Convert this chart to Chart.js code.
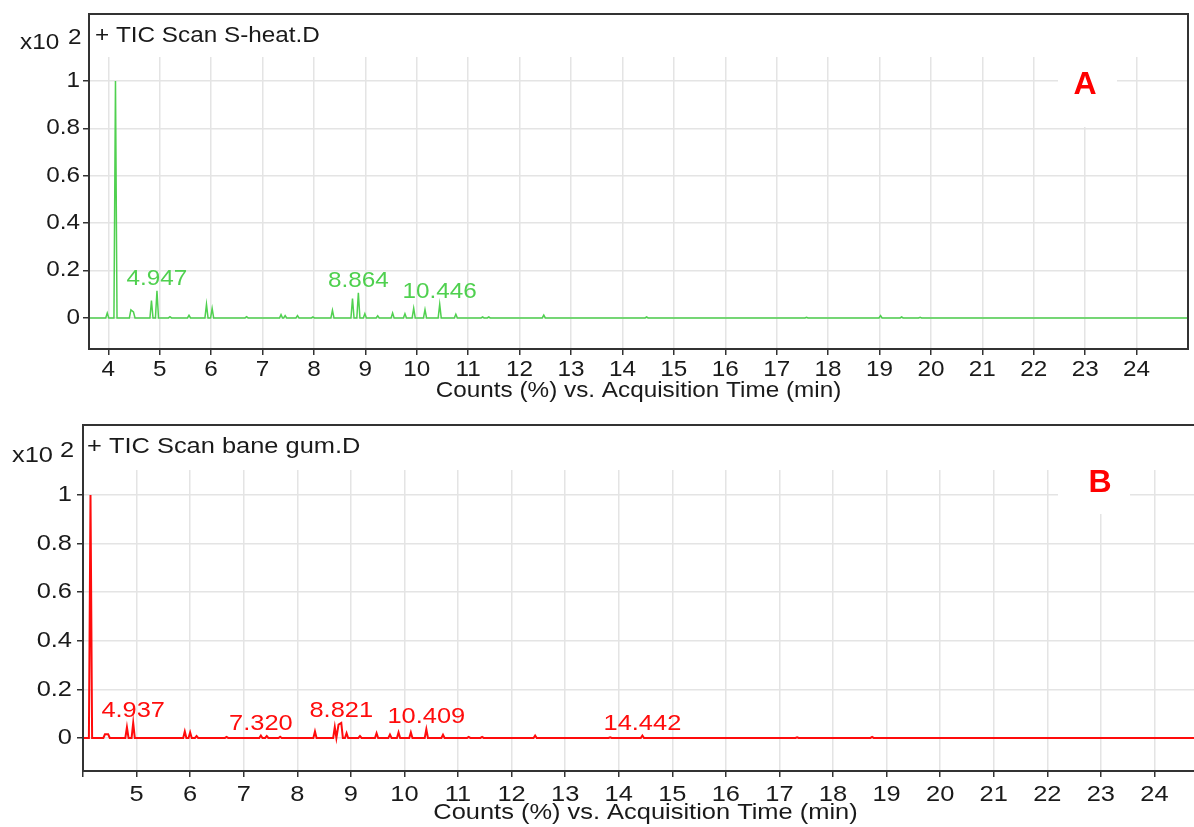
<!DOCTYPE html>
<html>
<head>
<meta charset="utf-8">
<script src="https://cdn.jsdelivr.net/npm/chart.js@4.4.1/dist/chart.umd.min.js"></script>
<style>
  html, body { margin: 0; padding: 0; background: #fff; overflow: hidden; }
  #wrap { position: relative; width: 1194px; height: 827px; overflow: hidden; }
  canvas { position: absolute; left: 0; }
  #chartA { top: 0; }
  #chartB { top: 410px; }
</style>
</head>
<body>
<div id="wrap">
  <canvas id="chartA" width="1194" height="410"></canvas>
  <canvas id="chartB" width="1214" height="417"></canvas>
</div>
<script>
// tick values / labels
const yTicks = [0, 0.2, 0.4, 0.6, 0.8, 1];
const yTickLabels = ['0', '0.2', '0.4', '0.6', '0.8', '1'];
const xTicksA = [4, 5, 6, 7, 8, 9, 10, 11, 12, 13, 14, 15, 16, 17, 18, 19, 20, 21, 22, 23, 24];
const xTickLabelsA = ['4', '5', '6', '7', '8', '9', '10', '11', '12', '13', '14', '15', '16', '17', '18', '19', '20', '21', '22', '23', '24'];
const xTicksB = [4, 5, 6, 7, 8, 9, 10, 11, 12, 13, 14, 15, 16, 17, 18, 19, 20, 21, 22, 23, 24];
const xTickLabelsB = ['', '5', '6', '7', '8', '9', '10', '11', '12', '13', '14', '15', '16', '17', '18', '19', '20', '21', '22', '23', '24'];

// A: TIC Scan S-heat.D  (retention time min, counts x10^2)
const sHeatTimes = [3.98, 4.14, 4.44, 4.49, 4.84, 4.947, 5.20, 5.57, 5.91, 6.02, 6.69, 7.36, 7.44, 7.68, 7.98, 8.36, 8.75, 8.864, 8.99, 9.24, 9.53, 9.77, 9.94, 10.16, 10.446, 10.76, 11.28, 11.40, 12.47, 14.47, 17.58, 19.02, 19.43, 19.79];
const sHeatCounts = [0.021, 1.0, 0.034, 0.025, 0.073, 0.115, 0.005, 0.011, 0.057, 0.040, 0.005, 0.014, 0.010, 0.010, 0.004, 0.032, 0.082, 0.106, 0.018, 0.009, 0.021, 0.018, 0.041, 0.035, 0.057, 0.016, 0.004, 0.004, 0.012, 0.004, 0.003, 0.010, 0.004, 0.003];
const sHeatLabels = ['4.947', '8.864', '10.446'];
const sHeatLabelTimes = [4.947, 8.864, 10.446];

// B: TIC Scan bane gum.D
const baneTimes = [4.14, 4.41, 4.47, 4.82, 4.937, 5.90, 6.00, 6.12, 6.68, 7.32, 7.43, 7.68, 8.33, 8.70, 8.77, 8.821, 8.92, 9.17, 9.48, 9.73, 9.89, 10.12, 10.409, 10.72, 11.20, 11.45, 12.44, 13.84, 14.442, 17.33, 18.73];
const baneCounts = [1.0, 0.015, 0.015, 0.044, 0.062, 0.027, 0.023, 0.008, 0.004, 0.010, 0.008, 0.005, 0.027, 0.045, 0.055, 0.062, 0.020, 0.008, 0.020, 0.014, 0.023, 0.023, 0.036, 0.013, 0.004, 0.004, 0.010, 0.003, 0.010, 0.003, 0.004];
const baneLabels = ['4.937', '7.320', '8.821', '10.409', '14.442'];
const baneLabelTimes = [4.937, 7.32, 8.821, 10.409, 14.442];

const GREEN = '#4fd04f';
const RED = '#ff0c0c';
const INK = '#1a1a1a';
const FONT = '"Liberation Sans", Arial, sans-serif';
const SX = 1.13; // the reference text is a bit stretched sideways

// peak list -> chromatogram trace (each peak goes up from baseline and back)
function buildTrace(times, heights, start, end, hw) {
    const pts = [{ x: start, y: 0 }];
    times.forEach((t, i) => {
        const prev = times[i - 1], next = times[i + 1];
        if (prev === undefined || t - prev > 2 * hw) pts.push({ x: t - hw, y: 0 });
        pts.push({ x: t, y: heights[i] });
        if (next === undefined || next - t > 2 * hw) pts.push({ x: t + hw, y: 0 });
    });
    pts.push({ x: end, y: 0 });
    return pts;
}

function txt(ctx, s, x, y, font, color, align, base, sx) {
    ctx.save();
    ctx.font = font;
    ctx.fillStyle = color;
    ctx.textAlign = align;
    ctx.textBaseline = base;
    ctx.translate(x, y);
    ctx.scale(sx === undefined ? SX : sx, 1);
    ctx.fillText(s, 0, 0);
    ctx.restore();
}

function decor(o) {
    return {
        id: 'decor' + o.letter,
        afterDatasetsDraw(chart) {
            const ctx = chart.ctx;
            const xs = chart.scales.x, ys = chart.scales.y;
            // peak labels
            o.labels.forEach((s, i) => {
                const t = o.labelTimes[i];
                const h = o.counts[o.times.indexOf(t)];
                txt(ctx, s, xs.getPixelForValue(t), ys.getPixelForValue(h) - 6, o.fs + 'px ' + FONT, o.color, 'center', 'alphabetic');
            });
            // panel letter on white patch
            const b = o.letterBox;
            ctx.save();
            ctx.fillStyle = '#fff';
            ctx.fillRect(b[0], b[1], b[2], b[3]);
            ctx.restore();
            txt(ctx, o.letter, o.letterPos[0], o.letterPos[1], 'bold 32px ' + FONT, '#ff0000', 'center', 'middle', 1);
        },
        afterDraw(chart) {
            const ctx = chart.ctx;
            const a = chart.chartArea;
            const xs = chart.scales.x, ys = chart.scales.y;
            const f = o.fs + 'px ' + FONT;
            // frame
            ctx.save();
            ctx.strokeStyle = '#333';
            ctx.lineWidth = 2;
            ctx.strokeRect(a.left, o.frameTop, a.right - a.left, a.bottom - o.frameTop);
            ctx.restore();
            // tick labels
            ys.ticks.forEach((tk, i) => {
                txt(ctx, yTickLabels[i], a.left - o.yOff, ys.getPixelForValue(tk.value), f, INK, 'right', 'middle');
            });
            xs.ticks.forEach((tk, i) => {
                txt(ctx, o.xLabels[i], xs.getPixelForValue(tk.value), a.bottom + o.xOff, f, INK, 'center', 'middle');
            });
            // titles
            txt(ctx, o.title, a.left + o.titleDx, o.frameTop + 22, f, INK, 'left', 'middle');
            txt(ctx, 'Counts (%) vs. Acquisition Time (min)', (a.left + a.right) / 2, a.bottom + 42, f, INK, 'center', 'middle');
            txt(ctx, 'x10', o.expPos[0], o.expPos[1], f, INK, 'left', 'middle');
            txt(ctx, '2', o.expPos[0] + 48, o.expPos[1] - 5, f, INK, 'left', 'middle');
        }
    };
}

function makeChart(id, o) {
    const el = document.getElementById(id);
    return new Chart(el.getContext('2d'), {
        type: 'line',
        data: {
            datasets: [{
                data: buildTrace(o.times, o.counts, o.xMin, o.xMax, o.hw),
                borderColor: o.color,
                borderWidth: o.lw,
                pointRadius: 0,
                tension: 0,
                fill: false
            }]
        },
        options: {
            responsive: false,
            animation: false,
            devicePixelRatio: 1,
            layout: { padding: { top: o.padTop, right: 6, left: 0, bottom: 0 } },
            plugins: { legend: { display: false }, tooltip: { enabled: false } },
            scales: {
                x: {
                    type: 'linear',
                    min: o.xMin, max: o.xMax,
                    afterBuildTicks: s => { s.ticks = o.xTicks.map(v => ({ value: v })); },
                    afterFit: s => { s.height = o.xAxisH; },
                    ticks: { display: false },
                    border: { display: false },
                    grid: { color: '#e4e4e4', lineWidth: 1.5, tickColor: '#333', tickLength: 6, tickWidth: 1.5 }
                },
                y: {
                    type: 'linear',
                    min: o.yMin, max: o.yMax,
                    afterBuildTicks: s => { s.ticks = yTicks.map(v => ({ value: v })); },
                    afterFit: s => { s.width = o.yAxisW; },
                    ticks: { display: false },
                    border: { display: false },
                    grid: { color: '#e4e4e4', lineWidth: 1.5, tickColor: '#333', tickLength: 6, tickWidth: 1.5 }
                }
            }
        },
        plugins: [decor(o)]
    });
}

makeChart('chartA', {
    letter: 'A', title: '+ TIC Scan S-heat.D',
    times: sHeatTimes, counts: sHeatCounts, labels: sHeatLabels, labelTimes: sHeatLabelTimes,
    color: GREEN, lw: 1.5, fs: 21.5, hw: 0.03,
    xMin: 3.625, xMax: 25, yMin: -0.131, yMax: 1.101,
    xTicks: xTicksA, xLabels: xTickLabelsA,
    padTop: 57, yAxisW: 89, xAxisH: 61,
    frameTop: 14, yOff: 9, xOff: 21.5, titleDx: 6,
    expPos: [20, 43],
    letterBox: [1058, 57, 59, 70], letterPos: [1085, 85]
});

makeChart('chartB', {
    letter: 'B', title: '+ TIC Scan bane gum.D',
    times: baneTimes, counts: baneCounts, labels: baneLabels, labelTimes: baneLabelTimes,
    color: RED, lw: 2, fs: 22.5, hw: 0.03,
    xMin: 4.0, xMax: 25, yMin: -0.136, yMax: 1.103,
    xTicks: xTicksB, xLabels: xTickLabelsB,
    padTop: 60, yAxisW: 83, xAxisH: 56,
    frameTop: 15, yOff: 11, xOff: 23.5, titleDx: 4,
    expPos: [12, 45.5],
    letterBox: [1058, 60, 72, 44], letterPos: [1100, 73.5]
});
</script>
</body>
</html>
